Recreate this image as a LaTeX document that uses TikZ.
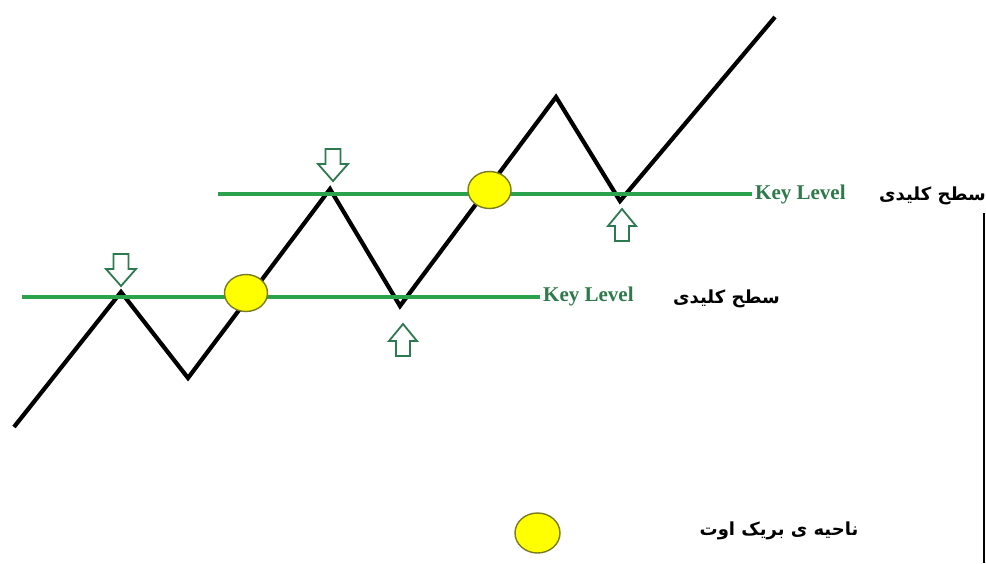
\documentclass[tikz,border=0pt]{standalone}
\usepackage{fontspec}
\setmainfont{Liberation Serif}
\newfontfamily\arabicfont[Script=Arabic]{DejaVu Sans}
\TeXXeTstate=1
\usetikzlibrary{shapes.geometric}
\definecolor{lvlgreen}{HTML}{2BA24C}
\definecolor{txtgreen}{HTML}{2F7A4A}
\definecolor{arrgreen}{HTML}{2E7A50}
\definecolor{ballfill}{HTML}{FFFF00}
\definecolor{balledge}{HTML}{7A7A22}
\tikzset{
  price/.style={line width=4.2pt, black, line join=miter, miter limit=10},
  level/.style={line width=4pt, lvlgreen},
  keylbl/.style={font=\bfseries\fontsize{21}{22}\selectfont, text=txtgreen, inner sep=0pt, anchor=west},
  fatxt/.style={font=\arabicfont\bfseries\fontsize{18}{20}\selectfont, inner sep=0pt},
  ball/.style={ellipse, fill=ballfill, draw=balledge, line width=1.4pt, minimum width=43pt, minimum height=37pt, inner sep=0pt},
  arrst/.style={draw=arrgreen, fill=white, line width=1.8pt, line join=miter},
  downarr/.pic={\draw[arrst] (-7.5,-16) -- (7.5,-16) -- (7.5,-1) -- (15,-1) -- (0,16) -- (-15,-1) -- (-7.5,-1) -- cycle;},
  uparr/.pic={\draw[arrst] (-7,16) -- (7,16) -- (7,1) -- (14,1) -- (0,-16) -- (-14,1) -- (-7,1) -- cycle;}
}
\begin{document}
\begin{tikzpicture}[x=1pt,y=-1pt]
\useasboundingbox[fill=white] (0,0) rectangle (986,563);
% zigzag vertices
\coordinate (p0) at (14,427);
\coordinate (p1) at (121,292);
\coordinate (p2) at (188,378);
\coordinate (p3) at (330,189);
\coordinate (p4) at (400,306);
\coordinate (p5) at (556,97);
\coordinate (p6) at (620,201);
\coordinate (p7) at (775,17);
\draw[price] (p0) -- (p1) -- (p2) -- (p3) -- (p4) -- (p5) -- (p6) -- (p7);
% key levels
\node[keylbl] (kl1) at (543,296) {Key Level};
\node[keylbl] (kl2) at (755,194) {Key Level};
\coordinate (l1s) at (22,297);
\coordinate (l2s) at (218,194);
\draw[level] (l1s) -- ([xshift=-3pt]kl1.west |- l1s);
\draw[level] (l2s) -- ([xshift=-3pt]kl2.west |- l2s);
% persian labels
\node[fatxt, anchor=west] (fa1) at (673,299) {\beginR سطح کلیدی\endR};
\node[fatxt, anchor=west] (fa2) at (879,196) {\beginR سطح کلیدی\endR};
% breakout balls
\node[ball] (b1) at (246,293) {};
\node[ball] (b2) at (489.5,190) {};
% arrows
\pic (a1) at (121,270) {downarr};
\pic (a2) at (333,165) {downarr};
\pic (a3) at (403,340) {uparr};
\pic (a4) at (622,225) {uparr};
% legend
\node[ball, minimum width=45pt, minimum height=40pt] (lb) at (537.5,533) {};
\node[fatxt] (lt) at (779,531) {\beginR ناحیه ی بریک اوت\endR};
% right edge line
\coordinate (v1) at (984,213);
\coordinate (v2) at (984,563);
\draw[line width=1.5pt] (v1) -- (v2);
\end{tikzpicture}
\end{document}
